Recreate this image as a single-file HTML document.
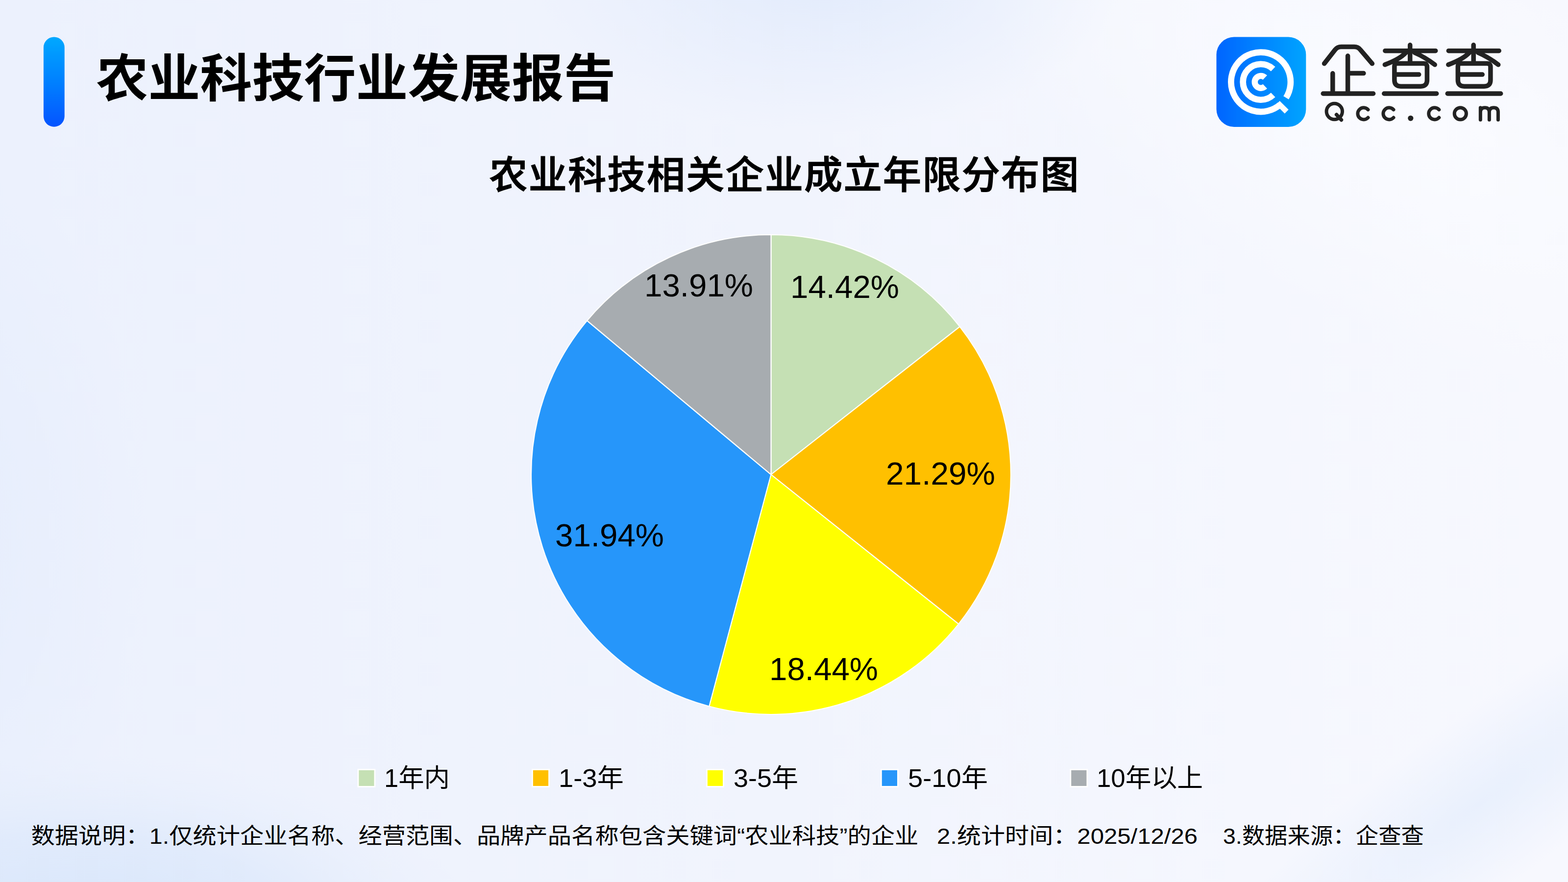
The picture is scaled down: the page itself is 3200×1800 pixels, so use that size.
<!DOCTYPE html><html lang="zh-CN"><head><meta charset="utf-8"><title>农业科技行业发展报告</title><style>html,body{margin:0;padding:0;width:3200px;height:1800px;overflow:hidden;background:#eef3fd;font-family:"Liberation Sans",sans-serif}svg{display:block;position:absolute;left:0;top:0}.sr{position:absolute;left:0;top:0;width:1px;height:1px;overflow:hidden;opacity:0;clip-path:inset(50%);white-space:nowrap;pointer-events:none}text{font-family:"Liberation Sans","Noto Sans CJK SC",sans-serif;fill:#000}</style></head><body><svg width="3200" height="1800" viewBox="0 0 3200 1800" role="img" aria-label="农业科技相关企业成立年限分布图"><defs>
<linearGradient id="bgBase" x1="0" y1="0" x2="1" y2="0"><stop offset="0" stop-color="#ecf1fd"/><stop offset="0.5" stop-color="#f1f4fd"/><stop offset="0.8" stop-color="#f5f7fe"/><stop offset="1" stop-color="#f7f8fe"/></linearGradient>
<radialGradient id="bgBL" cx="0" cy="0" r="1" gradientUnits="userSpaceOnUse" gradientTransform="translate(150 1900) scale(820 360)"><stop offset="0" stop-color="#d6e5fb"/><stop offset="0.55" stop-color="#dce8fb" stop-opacity="0.7"/><stop offset="1" stop-color="#e6eefc" stop-opacity="0"/></radialGradient>
<radialGradient id="bgL" cx="0" cy="0" r="1" gradientUnits="userSpaceOnUse" gradientTransform="translate(-150 1100) scale(450 800)"><stop offset="0" stop-color="#e4ecfc" stop-opacity="0.8"/><stop offset="1" stop-color="#e4ecfc" stop-opacity="0"/></radialGradient>
<radialGradient id="bgTop" cx="0" cy="0" r="1" gradientUnits="userSpaceOnUse" gradientTransform="translate(1680 -60) scale(620 330)"><stop offset="0" stop-color="#e2ebfc"/><stop offset="1" stop-color="#e2ebfc" stop-opacity="0"/></radialGradient>
<radialGradient id="bgTR" cx="0" cy="0" r="1" gradientUnits="userSpaceOnUse" gradientTransform="translate(2850 250) rotate(28) scale(1000 420)"><stop offset="0" stop-color="#fafbff"/><stop offset="1" stop-color="#fafbff" stop-opacity="0"/></radialGradient>
<radialGradient id="bgBR" cx="0" cy="0" r="1" gradientUnits="userSpaceOnUse" gradientTransform="translate(3020 1640) rotate(-36) scale(760 170)"><stop offset="0" stop-color="#e9f0fd"/><stop offset="1" stop-color="#e9f0fd" stop-opacity="0"/></radialGradient>
<linearGradient id="barGrad" x1="0" y1="0" x2="0" y2="1"><stop offset="0" stop-color="#00a8ff"/><stop offset="0.5" stop-color="#0080ff"/><stop offset="1" stop-color="#0554ff"/></linearGradient>
<filter id="logoSoft" x="2460" y="55" width="640" height="225" filterUnits="userSpaceOnUse"><feGaussianBlur stdDeviation="0.75"/></filter>
<linearGradient id="logoGrad" x1="0" y1="0" x2="1" y2="0"><stop offset="0" stop-color="#0565ff"/><stop offset="1" stop-color="#00a4ff"/></linearGradient>
</defs><rect width="3200" height="1800" fill="url(#bgBase)"/><rect width="3200" height="1800" fill="url(#bgTR)"/><rect width="3200" height="1800" fill="url(#bgBR)"/><rect width="3200" height="1800" fill="url(#bgTop)"/><rect width="3200" height="1800" fill="url(#bgL)"/><rect width="3200" height="1800" fill="url(#bgBL)"/><rect x="88.9" y="75.4" width="42.79999999999998" height="183.29999999999998" rx="21.4" fill="url(#barGrad)"/><g id="title"><title>农业科技行业发展报告</title><text x="196.4" y="196.7" font-size="105" font-weight="bold" textLength="1060" lengthAdjust="spacingAndGlyphs">农业科技行业发展报告</text></g><g id="charttitle"><title>农业科技相关企业成立年限分布图</title><text x="1600" y="384.7" font-size="78" font-weight="500" text-anchor="middle" stroke="#000" stroke-width="1.5" textLength="1203" lengthAdjust="spacing">农业科技相关企业成立年限分布图</text></g><g id="pie" stroke="#ffffff" stroke-width="2.2" stroke-linejoin="round"><path d="M1573.5 968.5 L1573.5 479 A489.5 489.5 0 0 1 1958.77 666.54 Z" fill="#c5e0b4"/><path d="M1573.5 968.5 L1958.77 666.54 A489.5 489.5 0 0 1 1956.29 1273.6 Z" fill="#ffc000"/><path d="M1573.5 968.5 L1956.29 1273.6 A489.5 489.5 0 0 1 1447.3 1441.45 Z" fill="#ffff00"/><path d="M1573.5 968.5 L1447.3 1441.45 A489.5 489.5 0 0 1 1198.1 654.35 Z" fill="#2696fa"/><path d="M1573.5 968.5 L1198.1 654.35 A489.5 489.5 0 0 1 1573.5 479 Z" fill="#a7acb0"/></g><g><title>14.42%</title><text x="1613" y="607.8" font-size="64.6" textLength="222" lengthAdjust="spacingAndGlyphs">14.42%</text></g><g><title>21.29%</title><text x="1808" y="988.8" font-size="64.6" textLength="223" lengthAdjust="spacingAndGlyphs">21.29%</text></g><g><title>18.44%</title><text x="1570" y="1387.8" font-size="64.6" textLength="222" lengthAdjust="spacingAndGlyphs">18.44%</text></g><g><title>31.94%</title><text x="1133" y="1114.8" font-size="64.6" textLength="222" lengthAdjust="spacingAndGlyphs">31.94%</text></g><g><title>13.91%</title><text x="1315" y="604.8" font-size="64.6" textLength="222" lengthAdjust="spacingAndGlyphs">13.91%</text></g><rect x="730.9" y="1570.5" width="34.0" height="34.9" fill="#c5e0b4" stroke="#fff" stroke-width="2.8"/><g><title>1年内</title><text x="784" y="1606" font-size="52" textLength="134" lengthAdjust="spacingAndGlyphs">1年内</text></g><rect x="1086.5" y="1570.5" width="34.0" height="34.9" fill="#ffc000" stroke="#fff" stroke-width="2.8"/><g><title>1-3年</title><text x="1140" y="1606" font-size="52" textLength="133" lengthAdjust="spacingAndGlyphs">1-3年</text></g><rect x="1442.5" y="1570.5" width="34.0" height="34.9" fill="#ffff00" stroke="#fff" stroke-width="2.8"/><g><title>3-5年</title><text x="1497" y="1606" font-size="52" textLength="132" lengthAdjust="spacingAndGlyphs">3-5年</text></g><rect x="1798.4" y="1570.5" width="34.0" height="34.9" fill="#2696fa" stroke="#fff" stroke-width="2.8"/><g><title>5-10年</title><text x="1853" y="1606" font-size="52" textLength="163" lengthAdjust="spacingAndGlyphs">5-10年</text></g><rect x="2184.8" y="1570.5" width="34.0" height="34.9" fill="#a7acb0" stroke="#fff" stroke-width="2.8"/><g><title>10年以上</title><text x="2238" y="1606" font-size="52" textLength="217" lengthAdjust="spacingAndGlyphs">10年以上</text></g><g id="footnote"><title>数据说明：1.仅统计企业名称、经营范围、品牌产品名称包含关键词“农业科技”的企业 2.统计时间：2025/12/26 3.数据来源：企查查</title><text y="1722" font-size="45" xml:space="preserve"><tspan x="63.4" textLength="1811" lengthAdjust="spacingAndGlyphs">数据说明：1.仅统计企业名称、经营范围、品牌产品名称包含关键词“农业科技”的企业</tspan><tspan x="1912" textLength="532" lengthAdjust="spacingAndGlyphs">2.统计时间：2025/12/26</tspan><tspan x="2496" textLength="410" lengthAdjust="spacingAndGlyphs">3.数据来源：企查查</tspan></text></g><g id="logo" filter="url(#logoSoft)"><title>企查查 Qcc.com</title><rect x="2482.5" y="75.6" width="182.80000000000018" height="183.29999999999998" rx="36" fill="url(#logoGrad)"/><g fill="none" stroke="#fff" stroke-width="12.7" stroke-linecap="butt"><path d="M2612.15 213.84 A60.75 60.75 0 1 1 2624.62 199.49"/><path d="M2611.71 205.91 L2629.67 223.87 L2621.89 231.65 L2603.93 213.69 Z" fill="#fff" stroke="none"/><path d="M2598.19 193.74 A36.45 36.45 0 1 1 2598.19 140.86" stroke-width="12.7"/><path d="M2581.64 176.29 A12.40 12.40 0 1 1 2581.64 158.31" stroke-width="12.4"/></g><g fill="none" stroke="#222" stroke-width="9.5" stroke-linecap="round" stroke-linejoin="round"><path d="M2702.6 129.8 L2724.5 101.8 Q2729.3 95.6 2737.3 95.6 H2763.7 Q2771.7 95.6 2776.5 101.8 L2800.4 129.8 M2750.6 114 V191 M2719.8 149.8 V191 M2750.6 149.6 H2782.9 M2700.2 191.0 H2802.6"/><path d="M2826.8 103.7 H2929.7 M2877.7 91.8 V125 M2869.0 107.5 Q2857.0 120.5 2826.3 132 M2887.0 107.5 Q2908.0 116.5 2928.2 132 M2851.8 129.6 H2905.4 Q2912.4 129.6 2912.4 136.6 V163.2 Q2912.4 176.2 2899.4 176.2 H2858.8 Q2845.8 176.2 2845.8 163.2 V135.6 Q2845.8 129.6 2851.8 129.6 Z M2845.8 152.1 H2895.7 M2824.7 191.0 H2931.7"/><path d="M2956.3 103.7 H3059.2 M3007.2 91.8 V125 M2998.5 107.5 Q2986.5 120.5 2955.8 132 M3016.5 107.5 Q3037.5 116.5 3057.7 132 M2981.3 129.6 H3034.9 Q3041.9 129.6 3041.9 136.6 V163.2 Q3041.9 176.2 3028.9 176.2 H2988.3 Q2975.3 176.2 2975.3 163.2 V135.6 Q2975.3 129.6 2981.3 129.6 Z M2975.3 152.1 H3025.2 M2954.2 191.0 H3062.7"/></g><g fill="none" stroke="#222" stroke-width="7.0" stroke-linecap="round" stroke-linejoin="round"><circle cx="2723.3" cy="227.5" r="16.2"/><path d="M2727.6 234 L2737.4 244.6" stroke-width="7.6"/><path d="M2791.99 240.00 A12.10 12.10 0 1 1 2791.99 223.80"/><path d="M2843.99 240.00 A12.10 12.10 0 1 1 2843.99 223.80"/><path d="M2936.79 240.00 A12.10 12.10 0 1 1 2936.79 223.80"/><circle cx="2878.8" cy="241.3" r="5.6" fill="#222" stroke="none"/><circle cx="2980.3" cy="231.9" r="12.1"/><path d="M3021.3 219.8 V244.5 M3021.3 228.8 Q3021.3 219.8 3030.3 219.8 Q3039.35 219.8 3039.35 228.8 V244.5 M3039.35 228.8 Q3039.35 219.8 3048.4 219.8 Q3057.4 219.8 3057.4 228.8 V244.5"/></g></g></svg><div class="sr"><h1>农业科技行业发展报告</h1><p>企查查 Qcc.com</p><h2>农业科技相关企业成立年限分布图</h2><ul><li>14.42%</li><li>21.29%</li><li>18.44%</li><li>31.94%</li><li>13.91%</li></ul><ul><li>1年内</li><li>1-3年</li><li>3-5年</li><li>5-10年</li><li>10年以上</li></ul><p>数据说明：1.仅统计企业名称、经营范围、品牌产品名称包含关键词“农业科技”的企业 2.统计时间：2025/12/26 3.数据来源：企查查</p></div></body></html>
